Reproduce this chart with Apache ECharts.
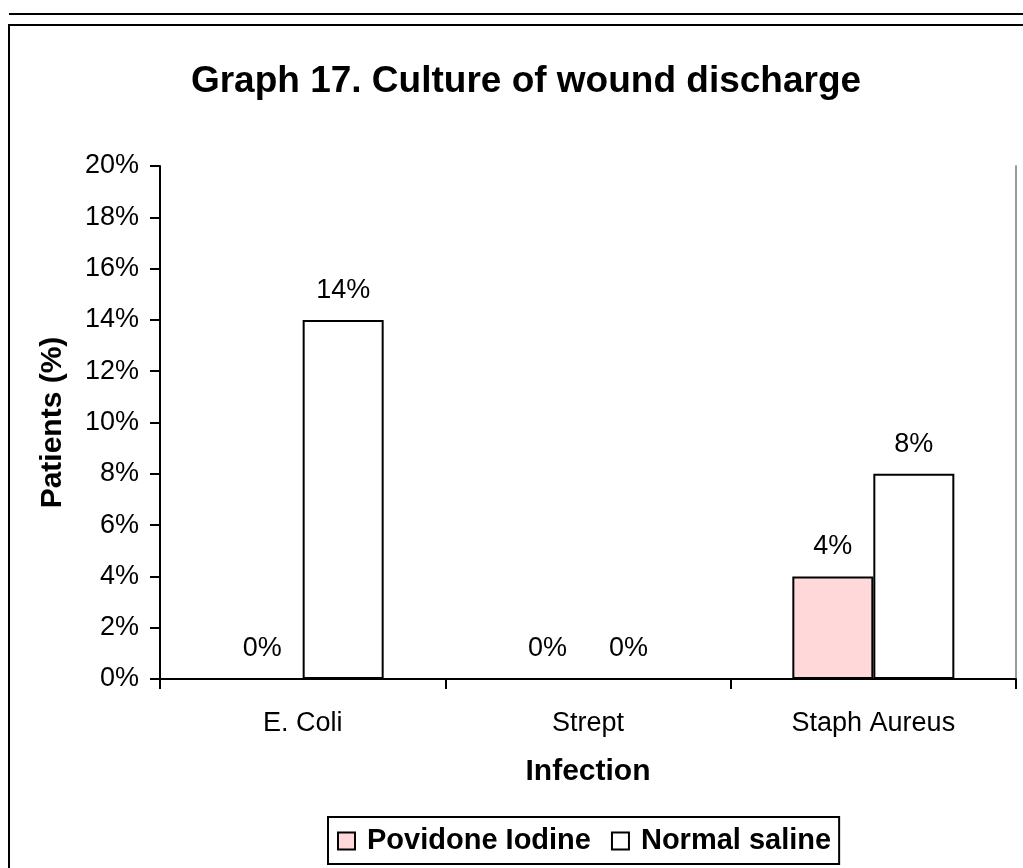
<!DOCTYPE html>
<html>
<head>
<meta charset="utf-8">
<script src="https://cdn.jsdelivr.net/npm/echarts@6/dist/echarts.min.js"></script>
<style>
  html, body { margin: 0; padding: 0; background: #fff; }
  #chart { width: 1023px; height: 868px; }
</style>
</head>
<body>
<div id="chart"></div>
<script>
// Culture results per infection type, percent of patients
const categories = ['E. Coli', 'Strept', 'Staph Aureus'];
const povidoneIodine = [0, 0, 4];
const normalSaline = [14, 0, 8];
const seriesNames = ['Povidone Iodine', 'Normal saline'];
const yTicks = { min: 0, max: 20, step: 2 };

const FONT = '"Liberation Sans", Arial, sans-serif';

const chart = echarts.init(document.getElementById('chart'), null, { renderer: 'canvas' });

const labelStyle = {
  show: true,
  position: 'top',
  distance: 16,
  formatter: p => p.value + '%',
  fontFamily: FONT,
  fontSize: 27,
  color: '#000'
};

chart.setOption({
  backgroundColor: '#fff',
  animation: false,
  title: {
    text: 'Graph 17. Culture of wound discharge',
    left: 521,
    top: 58,
    textAlign: 'center',
    textStyle: { fontFamily: FONT, fontSize: 37, fontWeight: 'bold', color: '#000' }
  },
  legend: {
    data: seriesNames,
    left: 328,
    top: 817,
    orient: 'horizontal',
    icon: 'rect',
    itemWidth: 17,
    itemHeight: 17,
    itemGap: 20,
    padding: [9, 8, 8, 9],
    borderColor: '#000',
    borderWidth: 2,
    backgroundColor: '#fff',
    textStyle: {
      fontFamily: FONT, fontSize: 29, fontWeight: 'bold', color: '#000',
      lineHeight: 30, padding: [0, 0, 0, 7]
    },
    itemStyle: { borderColor: '#000', borderWidth: 2 }
  },
  grid: { left: 160, right: 7, top: 166, bottom: 189, containLabel: false },
  xAxis: {
    type: 'category',
    data: categories,
    name: 'Infection',
    nameLocation: 'middle',
    nameGap: 78,
    nameTextStyle: { fontFamily: FONT, fontSize: 30, fontWeight: 'bold', color: '#000' },
    axisLine: { lineStyle: { color: '#000', width: 2 } },
    axisTick: { show: true, alignWithLabel: false, length: 10, lineStyle: { color: '#000', width: 2 } },
    axisLabel: { fontFamily: FONT, fontSize: 27, color: '#000', margin: 31 }
  },
  yAxis: [{
    type: 'value',
    min: yTicks.min,
    max: yTicks.max,
    interval: yTicks.step,
    name: 'Patients (%)',
    nameLocation: 'middle',
    nameGap: 92,
    nameTextStyle: { fontFamily: FONT, fontSize: 30, fontWeight: 'bold', color: '#000' },
    axisLine: { show: true, lineStyle: { color: '#000', width: 2 } },
    axisTick: { show: true, length: 10, lineStyle: { color: '#000', width: 2 } },
    axisLabel: { fontFamily: FONT, fontSize: 27, color: '#000', margin: 21, formatter: '{value}%' },
    splitLine: { show: false }
  }, {
    type: 'value',
    position: 'right',
    min: yTicks.min,
    max: yTicks.max,
    interval: yTicks.step,
    axisLine: { show: true, lineStyle: { color: '#9a9a9a', width: 2 } },
    axisTick: { show: false },
    axisLabel: { show: false },
    splitLine: { show: false }
  }],
  series: [{
    name: seriesNames[0],
    type: 'bar',
    data: povidoneIodine,
    barWidth: 81,
    barGap: '0%',
    itemStyle: { color: '#FFD9D9', borderColor: '#000', borderWidth: 2 },
    label: labelStyle
  }, {
    name: seriesNames[1],
    type: 'bar',
    data: normalSaline,
    barWidth: 81,
    barGap: '0%',
    itemStyle: { color: '#FFFFFF', borderColor: '#000', borderWidth: 2 },
    label: labelStyle
  }],
  graphic: [{
    type: 'line',
    shape: { x1: 9, y1: 14, x2: 1023, y2: 14 },
    style: { stroke: '#000', lineWidth: 2 },
    z: 100
  }, {
    type: 'rect',
    shape: { x: 9, y: 25, width: 1030, height: 900 },
    style: { fill: 'none', stroke: '#000', lineWidth: 2 },
    z: 100,
    silent: true
  }]
});
</script>
</body>
</html>
